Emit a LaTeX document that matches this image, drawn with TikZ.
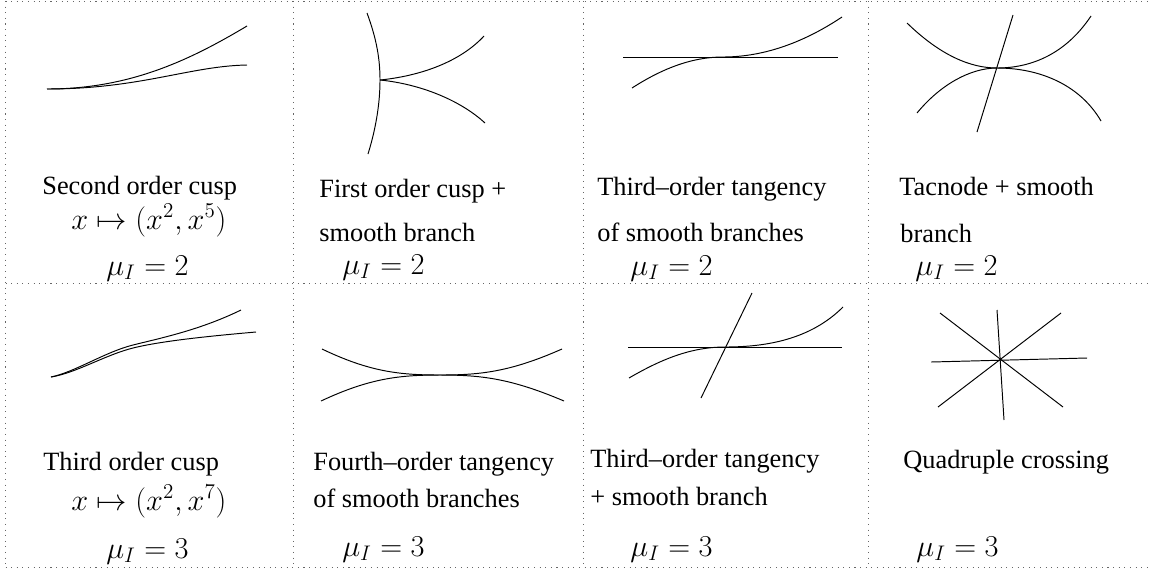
\documentclass[tikz,border=0pt]{standalone}
\usepackage[no-math]{fontspec}
\setmainfont{Liberation Serif}
\tikzset{
  celldots/.style={draw=black!60, line width=0.5pt, dash pattern=on 0.6pt off 2.6pt},
  branch/.style={draw=black, line width=0.55pt},
  caption/.style={anchor=base west, inner sep=0pt, font=\fontsize{15}{18}\selectfont},
  formula/.style={anchor=base west, inner sep=0pt, font=\fontsize{16.8}{20}\selectfont},
}
\begin{document}
\begin{tikzpicture}[x=0.02cm,y=-0.02cm]
        \useasboundingbox (0,0) rectangle (1151,569);
        % dotted cells
        \foreach \y in {1,283,567} \draw[celldots] (5.5,\y) -- (1151,\y);
        \foreach \x in {5.5,293,583,868} \draw[celldots] (\x,1) -- (\x,567);
        % second order cusp
        \coordinate (p1) at (47,89);
        \draw[branch] (p1) .. controls (130,89) and (190,60) .. (247,26);
        \draw[branch] (p1) .. controls (140,89) and (190,66) .. (247,65);
        \node[caption] (t1a) at (42,194) {Second order cusp};
        \node[formula] (t1b) at (71,229) {$x\mapsto(x^2,x^5)$};
        \node[formula] (m1) at (106,275) {$\mu_I=2$};
        % first order cusp + smooth branch
        \coordinate (p2) at (380,80);
        \draw[branch] (367,13) .. controls (377,40) and (380,60) .. (p2) .. controls (380,100) and (377,125) .. (368,154);
        \draw[branch] (p2) .. controls (420,76) and (460,62) .. (484,36);
        \draw[branch] (p2) .. controls (420,84) and (460,100) .. (485,123);
        \node[caption] (t2a) at (319,197) {First order cusp +};
        \node[caption] (t2b) at (319,241) {smooth branch};
        \node[formula] (m2) at (342,274) {$\mu_I=2$};
        % third-order tangency
        \coordinate (p3) at (723,57);
        \draw[branch] (623,57) -- (838,57);
        \draw[branch] (632,88) .. controls (660,70) and (690,57) .. (p3) .. controls (760,57) and (800,45) .. (842,17);
        \node[caption] (t3a) at (597,195) {Third\textendash order tangency};
        \node[caption] (t3b) at (597,241) {of smooth branches};
        \node[formula] (m3) at (630,275) {$\mu_I=2$};
        % tacnode + smooth branch
        \coordinate (p4) at (997,68);
        \draw[branch] (907,23) .. controls (940,55) and (970,68) .. (p4) .. controls (1030,68) and (1065,55) .. (1091,16);
        \draw[branch] (917,113) .. controls (940,85) and (970,68) .. (p4) .. controls (1040,68) and (1080,85) .. (1101,121);
        \draw[branch] (1013,15) -- (977,132);
        \node[caption] (t4a) at (899,195) {Tacnode + smooth};
        \node[caption] (t4b) at (900,242) {branch};
        \node[formula] (m4) at (915,275) {$\mu_I=2$};
        % third order cusp
        \coordinate (p5) at (51,377);
        \draw[branch] (p5) .. controls (75,372) and (105,352) .. (133,345) .. controls (161,338) and (200,330) .. (241,310);
        \draw[branch] (p5) .. controls (76,373) and (105,355) .. (133,348) .. controls (161,341) and (210,336) .. (256,332);
        \node[caption] (t5a) at (43,470) {Third order cusp};
        \node[formula] (t5b) at (71,510) {$x\mapsto(x^2,x^7)$};
        \node[formula] (m5) at (106,558) {$\mu_I=3$};
        % fourth-order tangency
        \coordinate (p6) at (440,375);
        \draw[branch] (322,349) .. controls (370,372) and (400,375) .. (p6) .. controls (480,375) and (510,372) .. (562,349);
        \draw[branch] (321,401) .. controls (370,378) and (400,375) .. (p6) .. controls (480,375) and (510,378) .. (564,401);
        \node[caption] (t6a) at (313,470) {Fourth\textendash order tangency};
        \node[caption] (t6b) at (313,507) {of smooth branches};
        \node[formula] (m6) at (342,556) {$\mu_I=3$};
        % third-order tangency + smooth branch
        \coordinate (p7) at (725,347);
        \draw[branch] (628,347) -- (842,347);
        \draw[branch] (629,378) .. controls (660,360) and (690,347) .. (p7) .. controls (765,347) and (810,340) .. (843,307);
        \draw[branch] (752,293) -- (701,398);
        \node[caption] (t7a) at (590,467) {Third\textendash order tangency};
        \node[caption] (t7b) at (590,505) {+ smooth branch};
        \node[formula] (m7) at (630,556) {$\mu_I=3$};
        % quadruple crossing
        \draw[branch] (931,362) -- (1087,358);
        \draw[branch] (997,310) -- (1004,420);
        \draw[branch] (940,313) -- (1063,407);
        \draw[branch] (1061,313) -- (938,407);
        \node[caption] (t8a) at (903,468) {Quadruple crossing};
        \node[formula] (m8) at (916,556) {$\mu_I=3$};
\end{tikzpicture}
\end{document}
